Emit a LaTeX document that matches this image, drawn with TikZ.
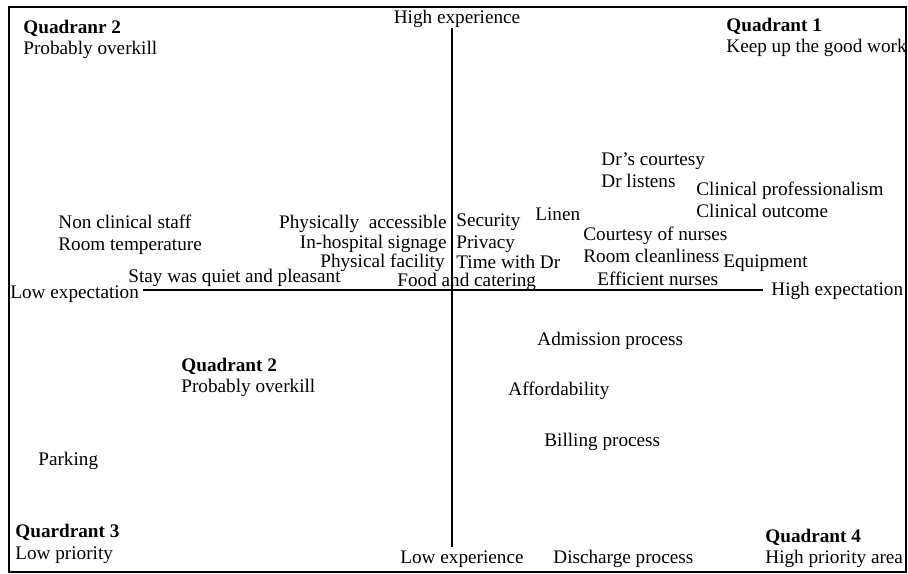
\documentclass[tikz,border=0pt]{standalone}
\usepackage{fontspec,xcolor,tikz}
\setmainfont{Liberation Serif}
\usetikzlibrary{positioning}
\definecolor{ink}{HTML}{000000}
\newcommand{\lbl}{\fontsize{9.6}{11}\selectfont}
\tikzset{punkt/.style={inner sep=0,anchor=west,text=ink,font=\lbl,text height=7pt,text depth=2pt},
  quadtitel/.style={punkt,font=\lbl\bfseries},
  achse/.style={ink,line width=1.3pt},
  rahmen/.style={ink,line width=1pt}}

\begin{document}
\begin{tikzpicture}[x=0.5pt,y=-0.5pt]
\useasboundingbox (0,0) rectangle (908,573);
\draw[rahmen] (9,7) rectangle (906,572);
\coordinate (xlo) at (143,290);
\coordinate (xhi) at (763,290);
\coordinate (ytop) at (452,28);
\coordinate (ybot) at (452,547);
\draw[achse] (xlo) -- (xhi);
\draw[achse] (ytop) -- (ybot);
\node[punkt] (lowexpt) at (10,293) {Low expectation};
\node[punkt] (highexpt) at (771,290) {High expectation};
\node[punkt,anchor=center] (highexpr) at (457,18) {High experience};
\node[punkt] (lowexpr) at (400,558) {Low experience};
\node[quadtitel] (qa) at (23,28) {Quadranr 2};
\node[punkt] (qasub) at (23,49) {Probably overkill};
\node[quadtitel] (qb) at (726,26) {Quadrant 1};
\node[punkt] (qbsub) at (726,47) {Keep up the good work};
\node[quadtitel] (qc) at (181,366) {Quadrant 2};
\node[punkt] (qcsub) at (181,387) {Probably overkill};
\node[quadtitel] (qd) at (15,532) {Quardrant 3};
\node[punkt] (qdsub) at (15,554) {Low priority};
\node[quadtitel] (qe) at (765,537) {Quadrant 4};
\node[punkt] (qesub) at (765,558) {High priority area};
\node[punkt] (nonclin) at (58,223) {Non clinical staff};
\node[punkt] (roomtemp) at (58,245) {Room temperature};
\node[punkt] (stay) at (128,277) {Stay was quiet and pleasant};
\node[punkt,anchor=east] (access) at (447,223) {Physically\ \ accessible};
\node[punkt,anchor=east] (signage) at (447,243) {In-hospital signage};
\node[punkt,anchor=east] (facility) at (445,262) {Physical facility};
\node[punkt] (food) at (397,281) {Food and catering};
\node[punkt] (security) at (456,221) {Security};
\node[punkt] (privacy) at (456,243) {Privacy};
\node[punkt] (timedr) at (456,263) {Time with Dr};
\node[punkt] (linen) at (535,215) {Linen};
\node[punkt] (drcourt) at (601,160) {Dr's courtesy};
\node[punkt] (drlist) at (601,182) {Dr listens};
\node[punkt] (clinprof) at (696,190) {Clinical professionalism};
\node[punkt] (clinout) at (696,212) {Clinical outcome};
\node[punkt] (courtnur) at (583,235) {Courtesy of nurses};
\node[punkt] (roomclean) at (583,257) {Room cleanliness};
\node[punkt] (equip) at (723,262) {Equipment};
\node[punkt] (effnur) at (597,280) {Efficient nurses};
\node[punkt] (admission) at (537,340) {Admission process};
\node[punkt] (afford) at (508,390) {Affordability};
\node[punkt] (billing) at (544,441) {Billing process};
\node[punkt] (discharge) at (553,558) {Discharge process};
\node[punkt] (parking) at (38,460) {Parking};
\end{tikzpicture}
\end{document}
